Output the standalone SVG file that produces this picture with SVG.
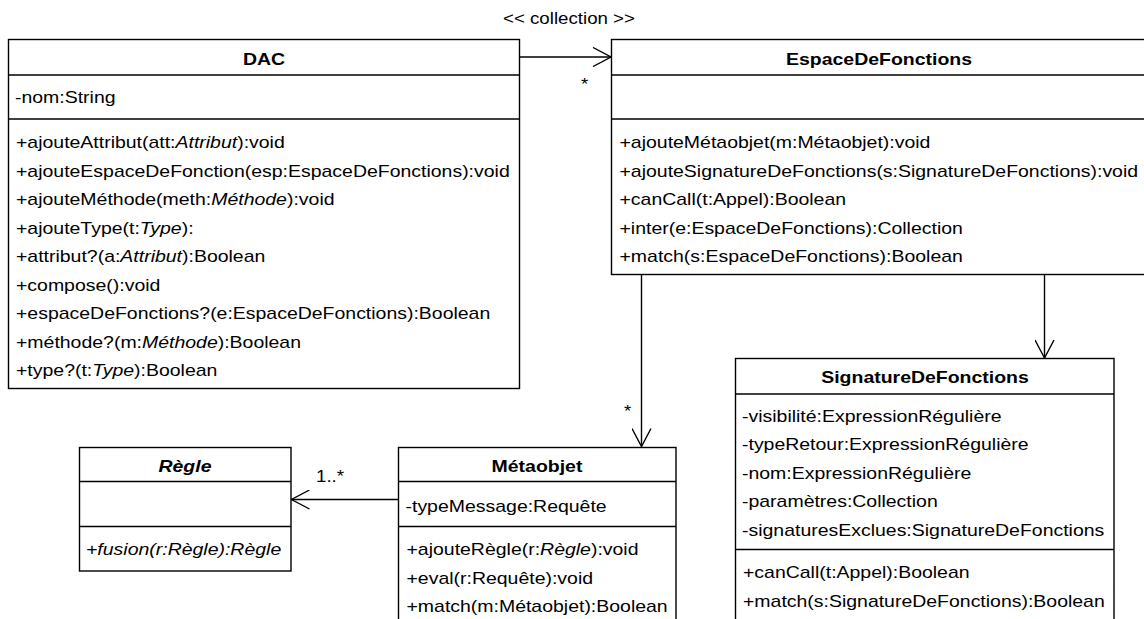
<svg xmlns="http://www.w3.org/2000/svg" width="1144" height="619" viewBox="0 0 1144 619">
<style>
.box{fill:#fff;stroke:#000;stroke-width:1.4}
.ln{stroke:#000;stroke-width:1.4;fill:none}
text{font-family:"Liberation Sans",Arial,Helvetica,sans-serif;font-size:17px;fill:#000}
.t{font-weight:bold;text-anchor:middle}
.i{font-style:italic}
</style>
<defs>
<marker id="open" viewBox="0 0 20 20" refX="19" refY="10" markerWidth="20" markerHeight="20" markerUnits="userSpaceOnUse" orient="auto">
<path d="M1,0.5 L19,10 L1,19.5" fill="none" stroke="#000" stroke-width="1.4"/>
</marker>
</defs>
<rect width="1144" height="619" fill="#fff"/>

<g id="DAC">
<rect class="box" x="8.5" y="39.5" width="511" height="349"/>
<line class="ln" x1="8.5" y1="75" x2="519.5" y2="75"/>
<line class="ln" x1="8.5" y1="119" x2="519.5" y2="119"/>
<text class="t" transform="translate(264,65) scale(1.145,1)">DAC</text>
<text transform="translate(15,103) scale(1.145,1)">-nom:String</text>
<text transform="translate(16,148) scale(1.145,1)">+ajouteAttribut(att:<tspan class="i">Attribut</tspan>):void</text>
<text transform="translate(16,176.5) scale(1.145,1)">+ajouteEspaceDeFonction(esp:EspaceDeFonctions):void</text>
<text transform="translate(16,205) scale(1.145,1)">+ajouteMéthode(meth:<tspan class="i">Méthode</tspan>):void</text>
<text transform="translate(16,233.5) scale(1.145,1)">+ajouteType(t:<tspan class="i">Type</tspan>):</text>
<text transform="translate(16,262) scale(1.145,1)">+attribut?(a:<tspan class="i">Attribut</tspan>):Boolean</text>
<text transform="translate(16,290.5) scale(1.145,1)">+compose():void</text>
<text transform="translate(16,319) scale(1.145,1)">+espaceDeFonctions?(e:EspaceDeFonctions):Boolean</text>
<text transform="translate(16,347.5) scale(1.145,1)">+méthode?(m:<tspan class="i">Méthode</tspan>):Boolean</text>
<text transform="translate(16,376) scale(1.145,1)">+type?(t:<tspan class="i">Type</tspan>):Boolean</text>
</g>

<g id="EspaceDeFonctions">
<rect class="box" x="611.5" y="39.5" width="536" height="235"/>
<line class="ln" x1="611.5" y1="75" x2="1147" y2="75"/>
<line class="ln" x1="611.5" y1="119" x2="1147" y2="119"/>
<text class="t" transform="translate(879,65) scale(1.145,1)">EspaceDeFonctions</text>
<text transform="translate(619.5,148) scale(1.145,1)">+ajouteMétaobjet(m:Métaobjet):void</text>
<text transform="translate(619.5,176.5) scale(1.145,1)">+ajouteSignatureDeFonctions(s:SignatureDeFonctions):void</text>
<text transform="translate(619.5,205) scale(1.145,1)">+canCall(t:Appel):Boolean</text>
<text transform="translate(619.5,233.5) scale(1.145,1)">+inter(e:EspaceDeFonctions):Collection</text>
<text transform="translate(619.5,262) scale(1.145,1)">+match(s:EspaceDeFonctions):Boolean</text>
</g>

<g id="Metaobjet">
<rect class="box" x="398.5" y="447.5" width="277.5" height="200"/>
<line class="ln" x1="398.5" y1="481.5" x2="676" y2="481.5"/>
<line class="ln" x1="398.5" y1="526.5" x2="676" y2="526.5"/>
<text class="t" transform="translate(537,472) scale(1.145,1)">Métaobjet</text>
<text transform="translate(405.5,511.5) scale(1.145,1)">-typeMessage:Requête</text>
<text transform="translate(406.5,555) scale(1.145,1)">+ajouteRègle(r:<tspan class="i">Règle</tspan>):void</text>
<text transform="translate(406.5,583.5) scale(1.145,1)">+eval(r:Requête):void</text>
<text transform="translate(406.5,612) scale(1.145,1)">+match(m:Métaobjet):Boolean</text>
</g>

<g id="Regle">
<rect class="box" x="79.5" y="447.5" width="211.5" height="123.5"/>
<line class="ln" x1="79.5" y1="481.5" x2="291" y2="481.5"/>
<line class="ln" x1="79.5" y1="526.5" x2="291" y2="526.5"/>
<text class="t i" transform="translate(185,472) scale(1.145,1)">Règle</text>
<text class="i" transform="translate(86,555) scale(1.145,1)">+fusion(r:Règle):Règle</text>
</g>

<g id="SignatureDeFonctions">
<rect class="box" x="735.5" y="358.5" width="378.5" height="300"/>
<line class="ln" x1="735.5" y1="394" x2="1114" y2="394"/>
<line class="ln" x1="735.5" y1="549.5" x2="1114" y2="549.5"/>
<text class="t" transform="translate(925,383) scale(1.145,1)">SignatureDeFonctions</text>
<text transform="translate(742,421.5) scale(1.145,1)">-visibilité:ExpressionRégulière</text>
<text transform="translate(742,450) scale(1.145,1)">-typeRetour:ExpressionRégulière</text>
<text transform="translate(742,478.5) scale(1.145,1)">-nom:ExpressionRégulière</text>
<text transform="translate(742,507) scale(1.145,1)">-paramètres:Collection</text>
<text transform="translate(742,535.5) scale(1.145,1)">-signaturesExclues:SignatureDeFonctions</text>
<text transform="translate(743,578) scale(1.145,1)">+canCall(t:Appel):Boolean</text>
<text transform="translate(743,606.5) scale(1.145,1)">+match(s:SignatureDeFonctions):Boolean</text>
</g>

<g id="connectors">
<path class="ln" d="M519.5,57 H611" marker-end="url(#open)"/>
<path class="ln" d="M641.5,274.5 V446.5" marker-end="url(#open)"/>
<path class="ln" d="M1044.5,274.5 V358" marker-end="url(#open)"/>
<path class="ln" d="M398.5,499.5 H291.5" marker-end="url(#open)"/>
<text transform="translate(503,24) scale(1.1,1)">&lt;&lt; collection &gt;&gt;</text>
<text transform="translate(581,90) scale(1.1,1)">*</text>
<text transform="translate(624,417) scale(1.1,1)">*</text>
<text transform="translate(316,481.5) scale(1.1,1)">1..*</text>
</g>
</svg>
